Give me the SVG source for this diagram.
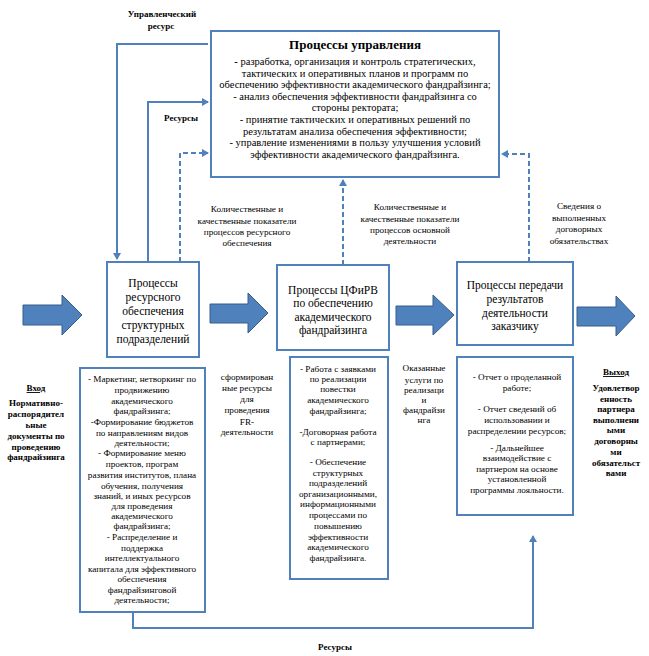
<svg xmlns="http://www.w3.org/2000/svg" width="649" height="656" viewBox="0 0 649 656">
<defs>
<style>
text{font-family:"Liberation Serif","Times New Roman",serif;fill:#000;text-anchor:middle}
.box{fill:#fff;stroke:#4F81BD;stroke-width:2}
.ln{fill:none;stroke:#4F81BD;stroke-width:2}
.dash{fill:none;stroke:#4F81BD;stroke-width:2;stroke-dasharray:5,3}
.big{fill:#4F81BD;stroke:#385D8A;stroke-width:1}
.t11{font-size:11.5px}
.t10{font-size:10.5px}
.t9{font-size:9.2px}
.b9{font-size:9px;font-weight:bold}
.title{font-size:13px;font-weight:bold}
</style>
<marker id="ah" markerWidth="8" markerHeight="8" refX="6" refY="4" orient="auto" markerUnits="userSpaceOnUse">
<path d="M0,0 L7,4 L0,8 Z" fill="#4F81BD"/>
</marker>
</defs>
<rect width="649" height="656" fill="#fff"/>

<g id="connectors">
<path class="ln" d="M208,44 H117 V259" marker-end="url(#ah)"/>
<path class="ln" d="M148,262 V102 H208" marker-end="url(#ah)"/>
<path class="dash" d="M180,262 V153 H208" marker-end="url(#ah)"/>
<path class="dash" d="M343,265 V180" marker-end="url(#ah)"/>
<path class="dash" d="M529,262 V154 H502" marker-end="url(#ah)"/>
<path class="ln" d="M133,612 V628 H533 V536" marker-end="url(#ah)"/>
<path class="big" d="M23,305 H62 V295 L82,315 L62,335 V325 H23 Z"/>
<path class="big" d="M210,304 H248 V293 L268,313 L248,333 V323 H210 Z"/>
<path class="big" d="M396,306 H433 V295 L454,315 L433,335 V325 H396 Z"/>
<path class="big" d="M577,307 H616 V296 L635,316 L616,336 V326 H577 Z"/>
</g>

<g id="mgmt">
<rect class="box" x="211" y="31" width="288" height="146"/>
<text class="title" x="355" y="49">Процессы управления</text>
<text class="t10" x="355" y="65"><tspan font-weight="bold">-</tspan> разработка, организация и контроль стратегических,</text>
<text class="t10" x="355" y="76.5">тактических и оперативных планов и программ по</text>
<text class="t10" x="355" y="88">обеспечению эффективности академического фандрайзинга;</text>
<text class="t10" x="355" y="99.5">- анализ обеспечения эффективности фандрайзинга со</text>
<text class="t10" x="355" y="111">стороны ректората;</text>
<text class="t10" x="355" y="123">- принятие тактических и оперативных решений по</text>
<text class="t10" x="355" y="134.5">результатам анализа обеспечения эффективности;</text>
<text class="t10" x="355" y="146">- управление изменениями в пользу улучшения условий</text>
<text class="t10" x="355" y="157.5">эффективности академического фандрайзинга.</text>
</g>

<g id="labels-top">
<text class="b9" x="162" y="17">Управленческий</text>
<text class="b9" x="161" y="29">ресурс</text>
<text class="b9" x="181" y="121">Ресурсы</text>
<text class="t9" x="247" y="212">Количественные и</text>
<text class="t9" x="247" y="224">качественные показатели</text>
<text class="t9" x="247" y="235">процессов ресурсного</text>
<text class="t9" x="247" y="246">обеспечения</text>
<text class="t9" x="410" y="210">Количественные и</text>
<text class="t9" x="410" y="222">качественные показатели</text>
<text class="t9" x="410" y="233">процессов основной</text>
<text class="t9" x="410" y="244">деятельности</text>
<text class="t9" x="579" y="209">Сведения о</text>
<text class="t9" x="579" y="221">выполненных</text>
<text class="t9" x="579" y="232">договорных</text>
<text class="t9" x="579" y="244">обязательствах</text>
</g>

<g id="node-resource">
<rect class="box" x="107" y="262" width="92" height="95"/>
<text class="t11" x="153" y="287">Процессы</text>
<text class="t11" x="153" y="301">ресурсного</text>
<text class="t11" x="153" y="315">обеспечения</text>
<text class="t11" x="153" y="329">структурных</text>
<text class="t11" x="153" y="343">подразделений</text>
</g>

<g id="node-cfirv">
<rect class="box" x="277" y="265" width="112" height="85"/>
<text class="t11" x="333" y="294">Процессы ЦФиРВ</text>
<text class="t11" x="333" y="307">по обеспечению</text>
<text class="t11" x="333" y="321">академического</text>
<text class="t11" x="333" y="334">фандрайзинга</text>
</g>

<g id="node-transfer">
<rect class="box" x="457" y="262" width="116" height="83"/>
<text class="t11" x="515" y="289">Процессы передачи</text>
<text class="t11" x="515" y="303">результатов</text>
<text class="t11" x="515" y="317">деятельности</text>
<text class="t11" x="515" y="330">заказчику</text>
</g>

<g id="node-input">
<text class="b9" x="36" y="391" text-decoration="underline">Вход</text>
<text class="b9" x="36" y="406">Нормативно-</text>
<text class="b9" x="36" y="417">распорядител</text>
<text class="b9" x="36" y="428">ьные</text>
<text class="b9" x="36" y="439">документы по</text>
<text class="b9" x="36" y="450">проведению</text>
<text class="b9" x="36" y="460">фандрайзинга</text>
</g>

<g id="node-res-list">
<rect class="box" x="80" y="368" width="125" height="244"/>
<text class="t9" x="142" y="382">- Маркетинг, нетворкинг по</text>
<text class="t9" x="142" y="393">продвижению</text>
<text class="t9" x="142" y="404">академического</text>
<text class="t9" x="142" y="414">фандрайзинга;</text>
<text class="t9" x="142" y="425">-Формирование бюджетов</text>
<text class="t9" x="142" y="436">по направлениям видов</text>
<text class="t9" x="142" y="446">деятельности;</text>
<text class="t9" x="142" y="456">- Формирование меню</text>
<text class="t9" x="142" y="467">проектов, програм</text>
<text class="t9" x="142" y="478">развития институтов, плана</text>
<text class="t9" x="142" y="489">обучения, получения</text>
<text class="t9" x="142" y="499">знаний, и иных ресурсов</text>
<text class="t9" x="142" y="509">для проведения</text>
<text class="t9" x="142" y="519">академического</text>
<text class="t9" x="142" y="529">фандрайзинга;</text>
<text class="t9" x="142" y="540">- Распределение и</text>
<text class="t9" x="142" y="551">поддержка</text>
<text class="t9" x="142" y="561">интеллектуального</text>
<text class="t9" x="142" y="572">капитала для эффективного</text>
<text class="t9" x="142" y="582">обеспечения</text>
<text class="t9" x="142" y="593">фандрайзинговой</text>
<text class="t9" x="142" y="603">деятельности;</text>
</g>

<g id="node-formed">
<text class="t9" x="247" y="380">сформирован</text>
<text class="t9" x="247" y="391">ные ресурсы</text>
<text class="t9" x="247" y="402">для</text>
<text class="t9" x="247" y="413">проведения</text>
<text class="t9" x="247" y="425">FR-</text>
<text class="t9" x="247" y="435">деятельности</text>
</g>

<g id="node-cfirv-list">
<rect class="box" x="290" y="357" width="98" height="222"/>
<text class="t9" x="338" y="372">- Работа с заявками</text>
<text class="t9" x="338" y="382">по реализации</text>
<text class="t9" x="338" y="392">повестки</text>
<text class="t9" x="338" y="403">академического</text>
<text class="t9" x="338" y="414">фандрайзинга;</text>
<text class="t9" x="338" y="435">-Договорная работа</text>
<text class="t9" x="338" y="445">с партнерами;</text>
<text class="t9" x="338" y="465">- Обеспечение</text>
<text class="t9" x="338" y="476">структурных</text>
<text class="t9" x="338" y="486">подразделений</text>
<text class="t9" x="338" y="497">организационными,</text>
<text class="t9" x="338" y="507">информационными</text>
<text class="t9" x="338" y="518">процессами по</text>
<text class="t9" x="338" y="529">повышению</text>
<text class="t9" x="338" y="540">эффективности</text>
<text class="t9" x="338" y="550">академического</text>
<text class="t9" x="338" y="561">фандрайзинга.</text>
</g>

<g id="node-services">
<text class="t9" x="424" y="371">Оказанные</text>
<text class="t9" x="424" y="383">услуги по</text>
<text class="t9" x="424" y="393">реализаци</text>
<text class="t9" x="424" y="403">и</text>
<text class="t9" x="424" y="413">фандрайзи</text>
<text class="t9" x="424" y="423">нга</text>
</g>

<g id="node-transfer-list">
<rect class="box" x="457" y="357" width="116" height="158"/>
<text class="t9" x="517" y="380">- Отчет о проделанной</text>
<text class="t9" x="517" y="391">работе;</text>
<text class="t9" x="517" y="412">- Отчет сведений об</text>
<text class="t9" x="517" y="423">использовании и</text>
<text class="t9" x="517" y="434">распределении ресурсов;</text>
<text class="t9" x="517" y="451">-  Дальнейшее</text>
<text class="t9" x="517" y="461">взаимодействие с</text>
<text class="t9" x="517" y="472">партнером на основе</text>
<text class="t9" x="517" y="482">установленной</text>
<text class="t9" x="517" y="493">программы лояльности.</text>
</g>

<g id="node-output">
<text class="b9" x="616" y="375" text-decoration="underline">Выход</text>
<text class="b9" x="616" y="391">Удовлетвор</text>
<text class="b9" x="616" y="402">енность</text>
<text class="b9" x="616" y="412">партнера</text>
<text class="b9" x="616" y="423">выполнени</text>
<text class="b9" x="616" y="433">ыми</text>
<text class="b9" x="616" y="444">договорны</text>
<text class="b9" x="616" y="455">ми</text>
<text class="b9" x="616" y="466">обязательст</text>
<text class="b9" x="616" y="476">вами</text>
</g>

<g id="label-bottom">
<text class="b9" x="335" y="650">Ресурсы</text>
</g>
</svg>
